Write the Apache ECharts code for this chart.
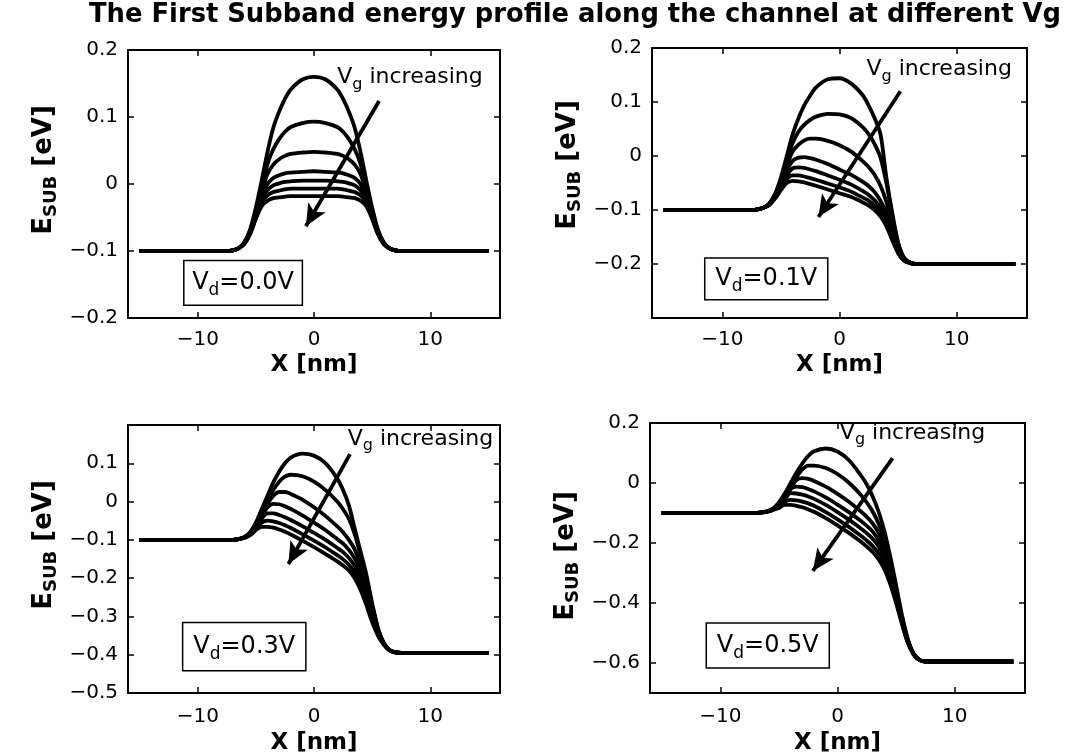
<!DOCTYPE html>
<html>
<head>
<meta charset="utf-8">
<script src="https://cdn.jsdelivr.net/npm/echarts@6/dist/echarts.min.js"></script>
<style>
html,body{margin:0;padding:0;background:#fff;}
#c{width:1070px;height:756px;}
</style>
</head>
<body>
<div id="c"></div>
<script>
// ---- data (x in nm, energies in eV) ----
const TITLE = 'The First Subband energy profile along the channel at different Vg';
const XS = [-15,-7.5,-7,-6.5,-6,-5.5,-5,-4.5,-4,-3.5,-3,-2.5,-2,-1,0,1,2,2.5,3,3.5,4,4.5,5,5.5,6,6.5,7,7.5,15];

// Vd = 0.0 V, seven gate voltages (Vg increasing downward)
const VD00 = [
 [-0.1,-0.1,-0.099,-0.096,-0.087,-0.068,-0.035,0.005,0.048,0.084,0.108,0.127,0.141,0.156,0.16,0.156,0.141,0.127,0.108,0.084,0.048,0.005,-0.035,-0.068,-0.087,-0.096,-0.099,-0.1,-0.1],
 [-0.1,-0.1,-0.099,-0.096,-0.088,-0.07,-0.04,-0.005,0.03,0.052,0.067,0.078,0.085,0.091,0.093,0.091,0.085,0.078,0.067,0.052,0.03,-0.005,-0.04,-0.07,-0.088,-0.096,-0.099,-0.1,-0.1],
 [-0.1,-0.1,-0.099,-0.096,-0.088,-0.071,-0.043,-0.012,0.015,0.029,0.037,0.042,0.045,0.047,0.048,0.047,0.045,0.042,0.037,0.029,0.015,-0.012,-0.043,-0.071,-0.088,-0.096,-0.099,-0.1,-0.1],
 [-0.1,-0.1,-0.099,-0.096,-0.089,-0.072,-0.046,-0.018,0.0,0.009,0.013,0.016,0.017,0.018,0.019,0.018,0.017,0.016,0.013,0.009,0.0,-0.018,-0.046,-0.072,-0.089,-0.096,-0.099,-0.1,-0.1],
 [-0.1,-0.1,-0.099,-0.096,-0.089,-0.073,-0.048,-0.023,-0.009,-0.002,0.001,0.003,0.004,0.005,0.005,0.005,0.004,0.003,0.001,-0.002,-0.009,-0.023,-0.048,-0.073,-0.089,-0.096,-0.099,-0.1,-0.1],
 [-0.1,-0.1,-0.099,-0.096,-0.089,-0.074,-0.05,-0.028,-0.017,-0.012,-0.01,-0.008,-0.007,-0.007,-0.007,-0.007,-0.007,-0.008,-0.01,-0.012,-0.017,-0.028,-0.05,-0.074,-0.089,-0.096,-0.099,-0.1,-0.1],
 [-0.1,-0.1,-0.099,-0.096,-0.09,-0.075,-0.052,-0.033,-0.025,-0.021,-0.02,-0.019,-0.018,-0.018,-0.018,-0.018,-0.018,-0.019,-0.02,-0.021,-0.025,-0.033,-0.052,-0.075,-0.09,-0.096,-0.099,-0.1,-0.1]
];
// Vd = 0.1 V
const VD01 = [
 [-0.1,-0.1,-0.099,-0.096,-0.088,-0.07,-0.04,0.0,0.04,0.07,0.094,0.112,0.127,0.142,0.144,0.134,0.112,0.093,0.07,0.04,-0.04,-0.105,-0.16,-0.188,-0.197,-0.2,-0.2,-0.2,-0.2],
 [-0.1,-0.1,-0.099,-0.096,-0.089,-0.072,-0.045,-0.008,0.024,0.045,0.058,0.067,0.073,0.078,0.077,0.07,0.053,0.04,0.022,-0.003,-0.05,-0.11,-0.162,-0.189,-0.197,-0.2,-0.2,-0.2,-0.2],
 [-0.1,-0.1,-0.099,-0.096,-0.089,-0.074,-0.05,-0.018,0.008,0.021,0.029,0.032,0.032,0.028,0.02,0.008,-0.01,-0.021,-0.035,-0.055,-0.085,-0.125,-0.168,-0.19,-0.197,-0.2,-0.2,-0.2,-0.2],
 [-0.1,-0.1,-0.099,-0.096,-0.09,-0.076,-0.054,-0.027,-0.009,-0.003,-0.002,-0.004,-0.007,-0.015,-0.025,-0.035,-0.048,-0.056,-0.067,-0.083,-0.105,-0.138,-0.172,-0.191,-0.198,-0.2,-0.2,-0.2,-0.2],
 [-0.1,-0.1,-0.099,-0.096,-0.09,-0.077,-0.057,-0.036,-0.023,-0.021,-0.022,-0.025,-0.028,-0.036,-0.044,-0.053,-0.065,-0.072,-0.082,-0.096,-0.116,-0.146,-0.175,-0.192,-0.198,-0.2,-0.2,-0.2,-0.2],
 [-0.1,-0.1,-0.099,-0.096,-0.09,-0.078,-0.06,-0.043,-0.036,-0.036,-0.038,-0.041,-0.044,-0.051,-0.058,-0.066,-0.077,-0.083,-0.092,-0.105,-0.124,-0.151,-0.178,-0.193,-0.198,-0.2,-0.2,-0.2,-0.2],
 [-0.1,-0.1,-0.099,-0.096,-0.091,-0.079,-0.063,-0.05,-0.046,-0.047,-0.049,-0.052,-0.055,-0.062,-0.069,-0.076,-0.086,-0.092,-0.1,-0.112,-0.13,-0.156,-0.18,-0.194,-0.198,-0.2,-0.2,-0.2,-0.2]
];
// Vd = 0.3 V
const VD03 = [
 [-0.1,-0.1,-0.1,-0.098,-0.093,-0.08,-0.055,-0.02,0.015,0.05,0.078,0.1,0.115,0.125,0.12,0.1,0.06,0.03,-0.01,-0.07,-0.13,-0.19,-0.265,-0.33,-0.37,-0.388,-0.394,-0.395,-0.395],
 [-0.1,-0.1,-0.1,-0.098,-0.094,-0.083,-0.06,-0.03,0.0,0.03,0.052,0.065,0.07,0.066,0.052,0.03,0.0,-0.02,-0.045,-0.085,-0.14,-0.2,-0.27,-0.332,-0.37,-0.388,-0.394,-0.395,-0.395],
 [-0.1,-0.1,-0.1,-0.098,-0.094,-0.084,-0.065,-0.035,-0.005,0.015,0.025,0.025,0.02,0.005,-0.015,-0.038,-0.065,-0.08,-0.1,-0.125,-0.165,-0.215,-0.275,-0.333,-0.37,-0.388,-0.394,-0.395,-0.395],
 [-0.1,-0.1,-0.1,-0.098,-0.094,-0.085,-0.068,-0.04,-0.015,-0.006,-0.007,-0.012,-0.019,-0.036,-0.055,-0.075,-0.098,-0.11,-0.126,-0.148,-0.182,-0.228,-0.285,-0.336,-0.37,-0.388,-0.394,-0.395,-0.395],
 [-0.1,-0.1,-0.1,-0.098,-0.094,-0.086,-0.07,-0.045,-0.031,-0.031,-0.035,-0.041,-0.048,-0.064,-0.082,-0.1,-0.121,-0.132,-0.147,-0.168,-0.2,-0.245,-0.295,-0.34,-0.371,-0.388,-0.394,-0.395,-0.395],
 [-0.1,-0.1,-0.1,-0.098,-0.095,-0.087,-0.072,-0.055,-0.05,-0.052,-0.056,-0.062,-0.069,-0.085,-0.102,-0.12,-0.14,-0.151,-0.165,-0.186,-0.216,-0.258,-0.305,-0.345,-0.372,-0.388,-0.394,-0.395,-0.395],
 [-0.1,-0.1,-0.1,-0.098,-0.095,-0.088,-0.075,-0.066,-0.066,-0.068,-0.073,-0.079,-0.086,-0.102,-0.119,-0.137,-0.156,-0.167,-0.18,-0.2,-0.23,-0.27,-0.315,-0.35,-0.374,-0.389,-0.394,-0.395,-0.395]
];
// Vd = 0.5 V
const VD05 = [
 [-0.1,-0.1,-0.1,-0.098,-0.094,-0.085,-0.065,-0.035,0.0,0.035,0.065,0.09,0.106,0.115,0.105,0.075,0.025,-0.005,-0.045,-0.095,-0.16,-0.245,-0.34,-0.44,-0.52,-0.57,-0.59,-0.595,-0.595],
 [-0.1,-0.1,-0.1,-0.098,-0.094,-0.086,-0.07,-0.045,-0.01,0.02,0.045,0.058,0.058,0.05,0.03,0.0,-0.04,-0.065,-0.095,-0.135,-0.19,-0.265,-0.355,-0.447,-0.523,-0.57,-0.59,-0.595,-0.595],
 [-0.1,-0.1,-0.1,-0.098,-0.095,-0.087,-0.072,-0.05,-0.018,0.01,0.016,0.014,0.007,-0.012,-0.036,-0.063,-0.095,-0.113,-0.135,-0.165,-0.21,-0.28,-0.365,-0.452,-0.525,-0.57,-0.59,-0.595,-0.595],
 [-0.1,-0.1,-0.1,-0.098,-0.095,-0.088,-0.075,-0.05,-0.02,-0.012,-0.014,-0.02,-0.028,-0.048,-0.072,-0.098,-0.127,-0.143,-0.162,-0.19,-0.23,-0.295,-0.375,-0.457,-0.527,-0.57,-0.59,-0.595,-0.595],
 [-0.1,-0.1,-0.1,-0.098,-0.095,-0.088,-0.077,-0.055,-0.034,-0.035,-0.039,-0.045,-0.053,-0.073,-0.097,-0.123,-0.152,-0.168,-0.186,-0.211,-0.248,-0.308,-0.383,-0.461,-0.529,-0.571,-0.59,-0.595,-0.595],
 [-0.1,-0.1,-0.1,-0.098,-0.095,-0.089,-0.08,-0.062,-0.056,-0.058,-0.062,-0.068,-0.076,-0.097,-0.121,-0.147,-0.176,-0.192,-0.21,-0.234,-0.268,-0.322,-0.392,-0.466,-0.531,-0.571,-0.59,-0.595,-0.595],
 [-0.1,-0.1,-0.1,-0.098,-0.096,-0.09,-0.083,-0.073,-0.073,-0.076,-0.081,-0.088,-0.096,-0.117,-0.141,-0.167,-0.196,-0.212,-0.23,-0.254,-0.287,-0.337,-0.4,-0.47,-0.533,-0.572,-0.59,-0.595,-0.595]
];
const PANELS = [VD00, VD01, VD03, VD05];
const VD_LABELS = ['=0.0V', '=0.1V', '=0.3V', '=0.5V'];

// axes
const X_RANGE = [-16, 16];
const X_TICKS = [-10, 0, 10];
const Y_MIN = [-0.2, -0.3, -0.5, -0.7];
const Y_MAX = [0.2, 0.2, 0.2, 0.2];
const Y_TICKS = [
  [-0.2, -0.1, 0, 0.1, 0.2],
  [-0.2, -0.1, 0, 0.1, 0.2],
  [-0.5, -0.4, -0.3, -0.2, -0.1, 0, 0.1],
  [-0.6, -0.4, -0.2, 0, 0.2]
];

// annotations (data coordinates)
const ARROW_TAIL = [[5.6, 0.124], [5.2, 0.12], [3.1, 0.124], [4.7, 0.083]];
const ARROW_HEAD = [[-0.7, -0.063], [-1.8, -0.113], [-2.2, -0.163], [-2.1, -0.293]];
const VG_TEXT_AT = [[2.0, 0.159], [2.3, 0.16], [2.9, 0.163], [0.2, 0.167]];
const VD_BOX = [ // [left, top, right, bottom]
  [-11.2, -0.114, -1.0, -0.181],
  [-11.5, -0.189, -1.0, -0.266],
  [-11.3, -0.316, -0.7, -0.442],
  [-11.2, -0.467, -0.7, -0.617]
];

// ---- layout ----
const GRIDS = [
  {left: 128, top: 50, width: 372, height: 268},
  {left: 652, top: 48, width: 375, height: 270},
  {left: 128, top: 425, width: 372, height: 269},
  {left: 650, top: 423, width: 375, height: 271}
];
const Y_NAME_SHIFT = [28, 36, 28, 4];   // visual upward shift of the y-axis titles
const FONT = 'DejaVu Sans';
const fmt = v => {
  const r = Math.round(v * 10) / 10;
  return (r === 0 ? '0' : String(r)).replace('-', '\u2212');
};

const xAxis = [], yAxis = [], series = [];
GRIDS.forEach((g, i) => {
  const lineCommon = {show: true, onZero: false, lineStyle: {color: '#000', width: 2}};
  const tick = vals => ({show: true, inside: true, length: 6, customValues: vals, lineStyle: {color: '#000', width: 1.5}});
  const bottomRow = i >= 2;
  xAxis.push({
    type: 'value', gridIndex: i, position: 'bottom', min: X_RANGE[0], max: X_RANGE[1],
    axisLine: lineCommon, splitLine: {show: false}, axisTick: tick(X_TICKS),
    axisLabel: {show: true, customValues: X_TICKS, formatter: fmt, color: '#000', fontFamily: FONT, fontSize: 20, margin: bottomRow ? 14 : 12},
    name: 'X [nm]', nameLocation: 'middle', nameGap: bottomRow ? 39 : 36,
    nameTextStyle: {color: '#000', fontFamily: FONT, fontWeight: 'bold', fontSize: 23}
  });
  xAxis.push({
    type: 'value', gridIndex: i, position: 'top', min: X_RANGE[0], max: X_RANGE[1],
    axisLine: lineCommon, splitLine: {show: false}, axisTick: tick(X_TICKS),
    axisLabel: {show: false}
  });
  yAxis.push({
    type: 'value', gridIndex: i, position: 'left', min: Y_MIN[i], max: Y_MAX[i],
    axisLine: lineCommon, splitLine: {show: false}, axisTick: tick(Y_TICKS[i]),
    axisLabel: {show: true, customValues: Y_TICKS[i], formatter: fmt, color: '#000', fontFamily: FONT, fontSize: 20, margin: 10},
    name: '{b|E}{s|SUB}{b| [eV]}', nameLocation: 'middle', nameGap: 68,
    nameTextStyle: {
      color: '#000',
      padding: [0, 0, 0, Y_NAME_SHIFT[i]],
      rich: {
        b: {fontFamily: FONT, fontWeight: 'bold', fontSize: 26, lineHeight: 32, color: '#000'},
        s: {fontFamily: FONT, fontWeight: 'bold', fontSize: 18, lineHeight: 20, verticalAlign: 'bottom', color: '#000'}
      }
    }
  });
  yAxis.push({
    type: 'value', gridIndex: i, position: 'right', min: Y_MIN[i], max: Y_MAX[i],
    axisLine: lineCommon, splitLine: {show: false}, axisTick: tick(Y_TICKS[i]),
    axisLabel: {show: false}
  });
  PANELS[i].forEach((curve, j) => {
    const s = {
      type: 'line', xAxisIndex: 2 * i, yAxisIndex: 2 * i,
      data: XS.map((x, k) => [x, curve[k]]),
      showSymbol: false, smooth: 0.3, silent: true,
      lineStyle: {color: '#000', width: 3.8}, animation: false
    };
    if (j === 0) {
      s.markLine = {
        silent: true, animation: false, symbol: ['none', 'arrow'], symbolSize: [15, 22],
        lineStyle: {color: '#000', width: 3.8, type: 'solid'}, label: {show: false},
        data: [[{coord: ARROW_TAIL[i]}, {coord: ARROW_HEAD[i]}]]
      };
    }
    series.push(s);
  });
});

const chart = echarts.init(document.getElementById('c'), null, {renderer: 'canvas'});
chart.setOption({
  backgroundColor: '#fff',
  animation: false,
  title: {
    text: TITLE, left: 84, top: -3,
    textStyle: {fontFamily: FONT, fontWeight: 'bold', fontSize: 25.8, color: '#000'}
  },
  grid: GRIDS,
  xAxis, yAxis, series
});

// annotation texts and boxes positioned from data coordinates
const graphic = [];
const vgRich = {
  v: {fontFamily: FONT, fontSize: 22, lineHeight: 30, fill: '#000'},
  s: {fontFamily: FONT, fontSize: 16, lineHeight: 18, verticalAlign: 'bottom', fill: '#000'}
};
const vdRich = {
  v: {fontFamily: FONT, fontSize: 24, lineHeight: 32, fill: '#000'},
  s: {fontFamily: FONT, fontSize: 17, lineHeight: 20, verticalAlign: 'bottom', fill: '#000'}
};
for (let i = 0; i < 4; i++) {
  const t = chart.convertToPixel({gridIndex: i}, VG_TEXT_AT[i]);
  graphic.push({
    type: 'text', x: t[0], y: t[1], silent: true, z: 10,
    style: {text: '{v|V}{s|g}{v| increasing}', align: 'left', verticalAlign: 'middle', rich: vgRich}
  });
  const b = VD_BOX[i];
  const p1 = chart.convertToPixel({gridIndex: i}, [b[0], b[1]]);
  const p2 = chart.convertToPixel({gridIndex: i}, [b[2], b[3]]);
  graphic.push({
    type: 'rect', silent: true, z: 10,
    shape: {x: p1[0], y: p1[1], width: p2[0] - p1[0], height: p2[1] - p1[1]},
    style: {fill: '#fff', stroke: '#000', lineWidth: 1.5}
  });
  graphic.push({
    type: 'text', silent: true, z: 11,
    x: (p1[0] + p2[0]) / 2, y: (p1[1] + p2[1]) / 2,
    style: {text: '{v|V}{s|d}{v|' + VD_LABELS[i] + '}', align: 'center', verticalAlign: 'middle', rich: vdRich}
  });
}
chart.setOption({graphic});
</script>
</body>
</html>
